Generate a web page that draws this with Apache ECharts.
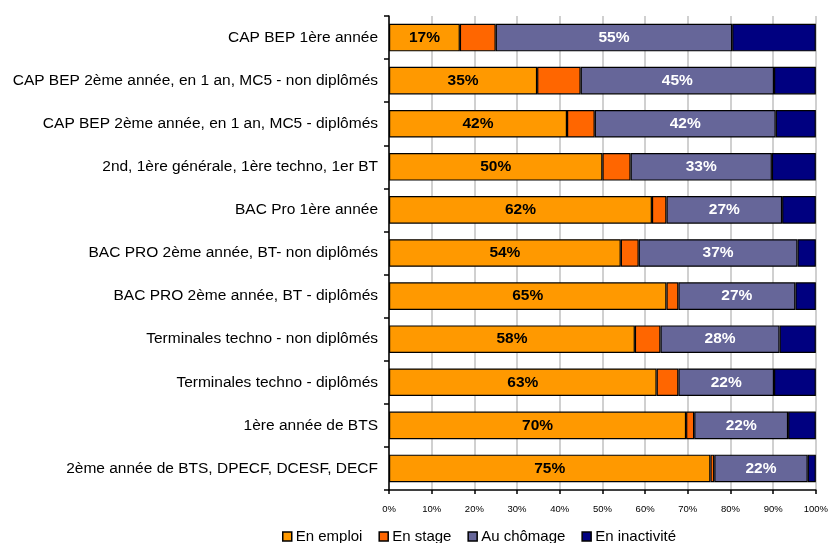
<!DOCTYPE html>
<html>
<head>
<meta charset="utf-8">
<script src="https://cdn.jsdelivr.net/npm/echarts@6/dist/echarts.min.js"></script>
<style>
html,body{margin:0;padding:0;background:#fff;}
#chart{width:831px;height:543px;}
</style>
</head>
<body>
<div id="chart"></div>
<script>
const categories = [
  "CAP BEP 1ère année",
  "CAP BEP 2ème année, en 1 an, MC5 - non diplômés",
  "CAP BEP 2ème année, en 1 an, MC5 - diplômés",
  "2nd, 1ère générale, 1ère techno, 1er BT",
  "BAC Pro 1ère année",
  "BAC PRO 2ème année, BT- non diplômés",
  "BAC PRO 2ème année, BT - diplômés",
  "Terminales techno - non diplômés",
  "Terminales techno - diplômés",
  "1ère année de BTS",
  "2ème année de BTS, DPECF, DCESF, DECF"
];
const enEmploi    = [16.6, 34.7, 41.7, 50.0, 61.6, 54.3, 65.0, 57.6, 62.7, 69.6, 75.3];
const enStage     = [ 8.4, 10.2,  6.5,  6.6,  3.4,  4.2,  2.8,  6.0,  5.1,  1.9,  0.9];
const auChomage   = [55.4, 45.3, 42.4, 33.1, 27.1, 37.2, 27.4, 27.9, 22.4, 22.0, 21.9];
const enInactivite= [19.6,  9.8,  9.4, 10.3,  7.9,  4.3,  4.8,  8.5,  9.8,  6.5,  1.9];
const tickLabels = ["0%","10%","20%","30%","40%","50%","60%","70%","80%","90%","100%"];

const chart = echarts.init(document.getElementById('chart'));
const font = 'Liberation Sans, Arial, sans-serif';
function mk(name, data, color, showLabel, labelColor) {
  return {
    name: name, type: 'bar', stack: 'total', data: data,
    barCategoryGap: '36%',
    itemStyle: {color: color, borderColor: '#000', borderWidth: 1.2},
    label: {
      show: showLabel, position: 'inside', fontFamily: font, fontSize: 15.5, fontWeight: 'bold',
      color: labelColor, formatter: p => Math.round(p.value) + '%'
    },
    emphasis: {disabled: true}
  };
}
chart.setOption({
  animation: false,
  grid: {left: 389, right: 11, top: 16, bottom: 53, containLabel: false},
  legend: {
    top: 529, left: 282, padding: 0, itemWidth: 9, itemHeight: 9, itemGap: 16,
    icon: 'rect',
    textStyle: {fontFamily: font, fontSize: 15, color: '#000', padding: [0,0,0,-1]},
    itemStyle: {borderColor: '#000', borderWidth: 1.5},
    data: ['En emploi','En stage','Au chômage','En inactivité']
  },
  xAxis: {
    type: 'value', min: 0, max: 100, interval: 10,
    axisLine: {show: true, lineStyle: {color: '#000', width: 1.5}},
    axisTick: {show: true, length: 4, lineStyle: {color: '#000', width: 1.5}},
    axisLabel: {fontFamily: font, fontSize: 9.5, color: '#000', margin: 14,
      formatter: v => tickLabels[Math.round(v/10)]},
    splitLine: {show: true, lineStyle: {color: '#c0c0c0', width: 1.5}}
  },
  yAxis: {
    type: 'category', data: categories, inverse: true,
    axisLine: {show: true, lineStyle: {color: '#000', width: 1.5}},
    axisTick: {show: true, length: 5, lineStyle: {color: '#000', width: 1.5}},
    axisLabel: {fontFamily: font, fontSize: 15.5, color: '#000', margin: 11},
    splitLine: {show: false}
  },
  series: [
    mk('En emploi', enEmploi, '#FF9900', true, '#000'),
    mk('En stage', enStage, '#FF6600', false, '#000'),
    mk('Au chômage', auChomage, '#666699', true, '#fff'),
    mk('En inactivité', enInactivite, '#000080', false, '#fff')
  ]
});
</script>
</body>
</html>
